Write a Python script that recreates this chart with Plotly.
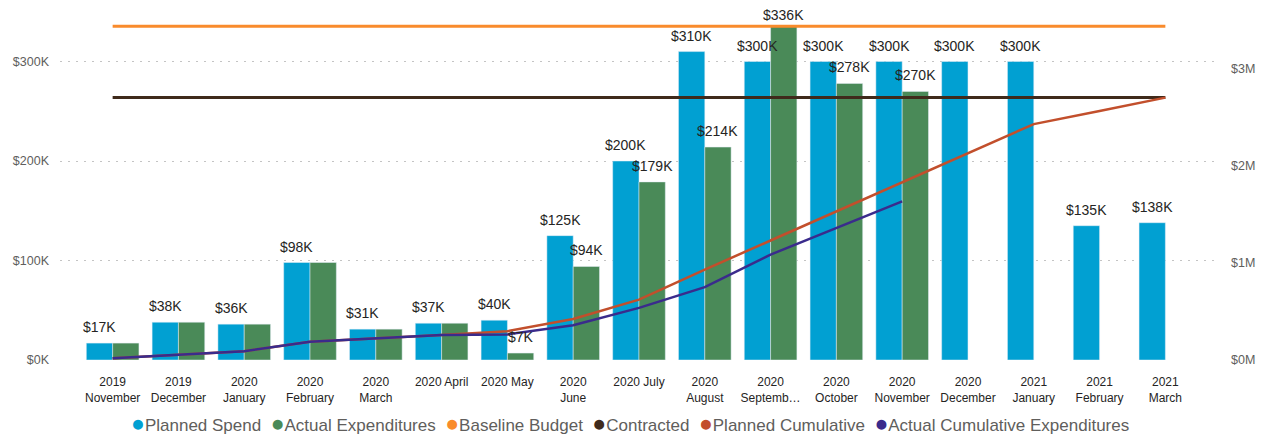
import plotly.graph_objects as go

categories = ["2019<br>November", "2019<br>December", "2020<br>January", "2020<br>February",
              "2020<br>March", "2020 April", "2020 May", "2020<br>June", "2020 July",
              "2020<br>August", "2020<br>Septemb\u2026", "2020<br>October", "2020<br>November",
              "2020<br>December", "2021<br>January", "2021<br>February", "2021<br>March"]

planned_spend = [17, 38, 36, 98, 31, 37, 40, 125, 200, 310, 300, 300, 300, 300, 300, 135, 138]  # $K
actual_exp = [17, 38, 36, 98, 31, 37, 7, 94, 179, 214, 336, 278, 270, None, None, None, None]  # $K
baseline_budget = 3.44  # $M
contracted = 2.705  # $M
planned_cum = [17, 55, 91, 189, 220, 257, 297, 422, 622, 932, 1232, 1532, 1832, 2132, 2432, 2567, 2705]  # $K
actual_cum = [17, 55, 91, 189, 220, 257, 264, 358, 537, 751, 1087, 1365, 1635, None, None, None, None]  # $K

left_ticks = [0, 100, 200, 300]
left_ticktext = ["$0K", "$100K", "$200K", "$300K"]
right_ticks = [0, 1, 2, 3]
right_ticktext = ["$0M", "$1M", "$2M", "$3M"]

series_names = ["Planned Spend", "Actual Expenditures", "Baseline Budget", "Contracted",
                "Planned Cumulative", "Actual Cumulative Expenditures"]

C_BLUE = "#01A0D2"
C_GREEN = "#4A8A58"
C_ORANGE = "#F98B2C"
C_BROWN = "#3F2A1B"
C_RED = "#C24F2C"
C_PURPLE = "#3A2B8C"
series_colors = [C_BLUE, C_GREEN, C_ORANGE, C_BROWN, C_RED, C_PURPLE]

FONT = "Liberation Sans"

# the page body has an 8px margin, so the figure is drawn 8px smaller and everything is laid out
# relative to that offset
OFF = 8
W, H = 1267 - OFF, 438 - OFF
ML, MR, MT, MB = 60 - OFF, 49, 10 - OFF, 78
X_RANGE = [-0.8, len(categories) - 1 + 0.8]
Y_RANGE = [0, 351.8]
Y2_RANGE = [0, 3.608]
BARGAP = 0.2
LABEL_SIZE = 14

fig = go.Figure()
fig.add_trace(go.Bar(x=categories, y=planned_spend, name=series_names[0], marker_color=C_BLUE,
                     showlegend=False))
fig.add_trace(go.Bar(x=categories, y=actual_exp, name=series_names[1], marker_color=C_GREEN,
                     showlegend=False))

fig.add_trace(go.Scatter(x=categories, y=[baseline_budget] * len(categories), yaxis="y2",
                         mode="lines", line=dict(color=C_ORANGE, width=3), name=series_names[2],
                         showlegend=False))
fig.add_trace(go.Scatter(x=categories, y=[contracted] * len(categories), yaxis="y2",
                         mode="lines", line=dict(color=C_BROWN, width=3), name=series_names[3],
                         showlegend=False))
fig.add_trace(go.Scatter(x=categories, y=[v / 1000 for v in planned_cum], yaxis="y2",
                         mode="lines", line=dict(color=C_RED, width=2.5), name=series_names[4],
                         showlegend=False))
fig.add_trace(go.Scatter(x=categories, y=[None if v is None else v / 1000 for v in actual_cum],
                         yaxis="y2", mode="lines", line=dict(color=C_PURPLE, width=2.5),
                         name=series_names[5], showlegend=False))

# data labels (annotations so they sit above every bar), offset to each bar of the group
plot_w = W - ML - MR
plot_h = H - MT - MB
cat_px = plot_w / (X_RANGE[1] - X_RANGE[0])
bar_off = cat_px * (1 - BARGAP) / 4


def label_shift(v):
    # keep the label inside the figure when the bar reaches the top
    top_px = MT + plot_h * (1 - v / Y_RANGE[1])
    return max(0, min(6, top_px - LABEL_SIZE - 3))


annotations = []
for cat, p, a in zip(categories, planned_spend, actual_exp):
    annotations.append(dict(x=cat, y=p, xref="x", yref="y", text=f"${p}K", showarrow=False,
                            xshift=-bar_off, yshift=label_shift(p), yanchor="bottom",
                            font=dict(size=LABEL_SIZE, color="#252423", family=FONT)))
    if a is not None and a != p:
        annotations.append(dict(x=cat, y=a, xref="x", yref="y", text=f"${a}K", showarrow=False,
                                xshift=bar_off, yshift=label_shift(a), yanchor="bottom",
                                font=dict(size=LABEL_SIZE, color="#252423", family=FONT)))

# legend row
legend_html = "  ".join(
    f"<span style='color:{c};font-size:23px'>\u25cf</span>{n}"
    for n, c in zip(series_names, series_colors))
annotations.append(dict(x=(630 - 60) / plot_w, y=(360 - 437) / plot_h,
                        xref="paper", yref="paper", text=legend_html, showarrow=False,
                        xanchor="center", yanchor="bottom", borderpad=0,
                        font=dict(size=17, color="#605E5C", family=FONT)))

fig.update_layout(
    width=W, height=H,
    margin=dict(l=ML, r=MR, t=MT, b=MB),
    paper_bgcolor="white", plot_bgcolor="white",
    barmode="group", bargap=BARGAP, bargroupgap=0,
    font=dict(family=FONT, color="#605E5C"),
    xaxis=dict(type="category", range=X_RANGE, showgrid=False, zeroline=False,
               showline=False, ticks="", automargin=False, ticklabelstandoff=13,
               tickfont=dict(size=12, color="#252423")),
    yaxis=dict(range=Y_RANGE, tickvals=left_ticks, ticktext=left_ticktext,
               showgrid=True, gridcolor="#C4C4C4", griddash="2px,6px", gridwidth=1,
               zeroline=False, showline=False, ticks="", automargin=False,
               tickfont=dict(size=12.5, color="#605E5C"), ticklabelstandoff=10),
    yaxis2=dict(range=Y2_RANGE, tickvals=right_ticks, ticktext=right_ticktext,
                overlaying="y", side="right", showgrid=False, zeroline=False, showline=False,
                ticks="", automargin=False, tickfont=dict(size=12.5, color="#605E5C"),
                ticklabelstandoff=12),
    annotations=annotations,
    showlegend=False,
)

fig.write_html("out.html")
